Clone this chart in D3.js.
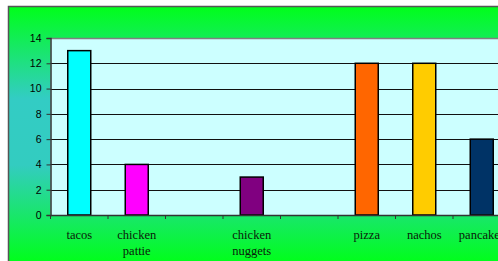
<!DOCTYPE html>
<html>
<head>
<meta charset="utf-8">
<script src="https://cdn.jsdelivr.net/npm/d3@7/dist/d3.min.js"></script>
<style>
  html, body { margin: 0; padding: 0; background: #fff; overflow: hidden; }
  svg { display: block; }
</style>
</head>
<body>
<svg id="chart" width="498" height="261"></svg>
<script>
const categories = ["tacos", "chicken pattie", "", "chicken nuggets", "", "pizza", "nachos", "pancakes"];
const values = [13, 4, null, 3, null, 12, 12, 6];
const barColors = ["#00FFFF", "#FF00FF", "#000000", "#800080", "#000000", "#FF6600", "#FFCC00", "#003366"];
const yTicks = [0, 2, 4, 6, 8, 10, 12, 14];

const svg = d3.select("#chart");
const W = 498, H = 261;

// background gradient
const defs = svg.append("defs");
const grad = defs.append("linearGradient")
  .attr("id", "bg").attr("x1", 0).attr("y1", 0).attr("x2", 0).attr("y2", 1);
grad.append("stop").attr("offset", "0%").attr("stop-color", "#00FF1A");
grad.append("stop").attr("offset", "36%").attr("stop-color", "#33CCC4");
grad.append("stop").attr("offset", "62%").attr("stop-color", "#33CCC0");
grad.append("stop").attr("offset", "100%").attr("stop-color", "#00FF1A");

svg.append("rect")
  .attr("x", 8.5).attr("y", 6.5).attr("width", 600).attr("height", 256)
  .attr("fill", "url(#bg)")
  .attr("stroke", "#555").attr("stroke-width", 1.5);

const plotLeft = 50.5, plotTop = 38, plotBottom = 215;
const bandStep = 57.5;

const x = d3.scaleBand()
  .domain(d3.range(categories.length))
  .range([plotLeft, plotLeft + bandStep * categories.length])
  .paddingInner(0).paddingOuter(0);

const y = d3.scaleLinear().domain([0, 14]).range([plotBottom, plotTop]);

// plot area
svg.append("rect")
  .attr("x", plotLeft).attr("y", y(14))
  .attr("width", 600).attr("height", y(0) - y(14))
  .attr("fill", "#CCFFFF");

// gridlines
svg.append("g")
  .selectAll("line")
  .data(yTicks.filter(d => d > 0))
  .join("line")
  .attr("x1", plotLeft).attr("x2", W + 20)
  .attr("y1", d => Math.round(y(d)) + 0.5).attr("y2", d => Math.round(y(d)) + 0.5)
  .attr("stroke", d => d === 14 ? "#808080" : "#111")
  .attr("stroke-width", d => d === 14 ? 1.5 : 1);

// bars
const barW = 23;
svg.append("g")
  .selectAll("rect")
  .data(categories.map((c, i) => ({ i, v: values[i], color: barColors[i] })).filter(d => d.v != null))
  .join("rect")
  .attr("x", d => x(d.i) + (x.bandwidth() - barW) / 2)
  .attr("y", d => y(d.v))
  .attr("width", barW)
  .attr("height", d => y(0) - y(d.v))
  .attr("fill", d => d.color)
  .attr("stroke", "#000")
  .attr("stroke-width", 1.5);

// y axis
const yAxis = svg.append("g")
  .attr("transform", `translate(${plotLeft},0)`)
  .call(d3.axisLeft(y).tickValues(yTicks).tickSize(4).tickPadding(5));
yAxis.select(".domain").attr("stroke", "#333").attr("stroke-width", 1.5);
yAxis.selectAll(".tick line").attr("stroke", "#333");
yAxis.selectAll(".tick text")
  .attr("font-family", "Liberation Sans, Arial, sans-serif")
  .attr("font-size", "10.5px")
  .attr("fill", "#000");

// x axis
const xAxis = svg.append("g")
  .attr("transform", `translate(0,${plotBottom})`)
  .call(d3.axisBottom(x).tickSize(0).tickFormat(() => ""));
xAxis.select(".domain").attr("stroke", "#333").attr("stroke-width", 1.5);

// boundary ticks
xAxis.append("g")
  .selectAll("line")
  .data(d3.range(categories.length + 1))
  .join("line")
  .attr("x1", i => plotLeft + i * x.step()).attr("x2", i => plotLeft + i * x.step())
  .attr("y1", 0).attr("y2", 4)
  .attr("stroke", "#333");

// category labels
const labels = svg.append("g")
  .selectAll("text")
  .data(categories.map((c, i) => ({ c, i })))
  .join("text")
  .attr("text-anchor", "middle")
  .attr("font-family", "Liberation Serif, Times New Roman, serif")
  .attr("font-size", "12.5px")
  .attr("fill", "#0a1a0a");
labels.each(function(d) {
  const words = d.c.split(" ");
  const t = d3.select(this);
  words.forEach((w, k) => {
    t.append("tspan")
      .attr("x", x(d.i) + x.bandwidth() / 2)
      .attr("y", 239 + k * 16)
      .text(w);
  });
});
</script>
</body>
</html>
